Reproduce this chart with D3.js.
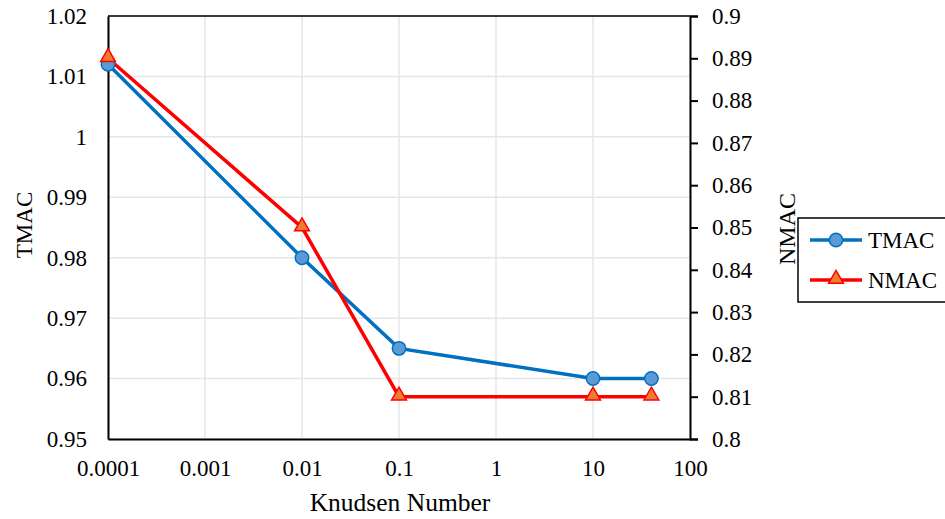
<!DOCTYPE html>
<html><head><meta charset="utf-8">
<script src="https://cdn.jsdelivr.net/npm/d3@7"></script>
<style>body{margin:0;background:#fff}</style>
</head><body><svg id="c" width="945" height="519" font-family="Liberation Serif, Times New Roman, serif"></svg>
<script>
const knudsen = [0.0001, 0.01, 0.1, 10, 40];
const tmac = [1.012, 0.98, 0.965, 0.96, 0.96];
const nmac = [0.89, 0.85, 0.81, 0.81, 0.81];
const xTicks = [0.0001, 0.001, 0.01, 0.1, 1, 10, 100];
const xTickLabels = ["0.0001", "0.001", "0.01", "0.1", "1", "10", "100"];
const leftTicks = [0.95, 0.96, 0.97, 0.98, 0.99, 1, 1.01, 1.02];
const rightTicks = [0.8, 0.81, 0.82, 0.83, 0.84, 0.85, 0.86, 0.87, 0.88, 0.89, 0.9];

const FONT = "'Liberation Serif', 'Times New Roman', serif";
const svg = d3.select("#c");
const L = 108, R = 690, T = 16, B = 439;
const x = d3.scaleLog().domain([0.0001, 100]).range([L, R]);
const yL = d3.scaleLinear().domain([0.95, 1.02]).range([B, T]);
const yR = d3.scaleLinear().domain([0.8, 0.9]).range([B, T]);
const fmt = d => String(+d.toFixed(3));

// gridlines
const g = svg.append("g");
g.selectAll(".hg").data(leftTicks).join("line")
  .attr("x1", L).attr("x2", R).attr("y1", d => yL(d)).attr("y2", d => yL(d))
  .attr("stroke", "#e6e6e6").attr("stroke-width", 1.5);
g.selectAll(".vg").data(xTicks).join("line")
  .attr("x1", d => x(d)).attr("x2", d => x(d)).attr("y1", T).attr("y2", B)
  .attr("stroke", "#e6e6e6").attr("stroke-width", 1.5);
// top border
svg.append("line").attr("x1", L).attr("x2", R).attr("y1", T).attr("y2", T).attr("stroke", "#000").attr("stroke-width", 1.5);

// axes
const axB = svg.append("g").attr("transform", `translate(0,${B})`)
  .call(d3.axisBottom(x).tickValues(xTicks).tickFormat((d, i) => xTickLabels[i]).tickSize(0).tickPadding(21));
const axL = svg.append("g").attr("transform", `translate(${L},0)`)
  .call(d3.axisLeft(yL).tickValues(leftTicks).tickFormat(fmt).tickSize(0).tickPadding(21));
const axR = svg.append("g").attr("transform", `translate(${R},0)`)
  .call(d3.axisRight(yR).tickValues(rightTicks).tickFormat(fmt).tickSize(8).tickPadding(14));
[axB, axL, axR].forEach(a => {
  a.attr("font-family", null).attr("font-size", 23);
  a.select(".domain").attr("stroke", "#000").attr("stroke-width", 2);
  a.selectAll(".tick line").attr("stroke", "#000").attr("stroke-width", 2);
  a.selectAll("text").attr("fill", "#000").style("font-family", FONT);
});

// axis titles
svg.append("text").attr("x", 400).attr("y", 511).attr("text-anchor", "middle").attr("font-size", 25.5).text("Knudsen Number");
svg.append("text").attr("transform", "translate(32,225) rotate(-90)").attr("text-anchor", "middle").attr("font-size", 23).text("TMAC");
svg.append("text").attr("transform", "translate(795,229) rotate(-90)").attr("text-anchor", "middle").attr("font-size", 24).text("NMAC");

// series
const dT = knudsen.map((k, i) => [k, tmac[i]]);
const dN = knudsen.map((k, i) => [k, nmac[i]]);
svg.append("path").datum(dT).attr("fill", "none").attr("stroke", "#0070C0").attr("stroke-width", 3.5)
  .attr("d", d3.line().x(d => x(d[0])).y(d => yL(d[1])));
svg.append("path").datum(dN).attr("fill", "none").attr("stroke", "#FF0000").attr("stroke-width", 3.5)
  .attr("d", d3.line().x(d => x(d[0])).y(d => yR(d[1])));
const tri = d3.symbol().type(d3.symbolTriangle).size(95);
svg.selectAll(".mt").data(dT).join("circle").attr("cx", d => x(d[0])).attr("cy", d => yL(d[1])).attr("r", 6.7)
  .attr("fill", "#5B9BD5").attr("stroke", "#0070C0").attr("stroke-width", 1.5);
svg.selectAll(".mn").data(dN).join("path").attr("d", tri)
  .attr("transform", d => `translate(${x(d[0])},${yR(d[1]) - 1})`)
  .attr("fill", "#ED7D31").attr("stroke", "#FF0000").attr("stroke-width", 1.5);

// legend
const lg = svg.append("g");
lg.append("rect").attr("x", 798).attr("y", 218).attr("width", 160).attr("height", 84).attr("fill", "#fff").attr("stroke", "#000").attr("stroke-width", 1.5);
const items = [{n: "TMAC", c: "#0070C0", f: "#5B9BD5", t: "c", y: 240}, {n: "NMAC", c: "#FF0000", f: "#ED7D31", t: "t", y: 280}];
items.forEach(it => {
  lg.append("line").attr("x1", 810).attr("x2", 862).attr("y1", it.y).attr("y2", it.y).attr("stroke", it.c).attr("stroke-width", 3.5);
  if (it.t === "c") lg.append("circle").attr("cx", 836).attr("cy", it.y).attr("r", 6.7).attr("fill", it.f).attr("stroke", it.c).attr("stroke-width", 1.5);
  else lg.append("path").attr("d", tri).attr("transform", `translate(836,${it.y - 1})`).attr("fill", it.f).attr("stroke", it.c).attr("stroke-width", 1.5);
  lg.append("text").attr("x", 868).attr("y", it.y + 8).attr("font-size", 23).text(it.n);
});
</script></body></html>
